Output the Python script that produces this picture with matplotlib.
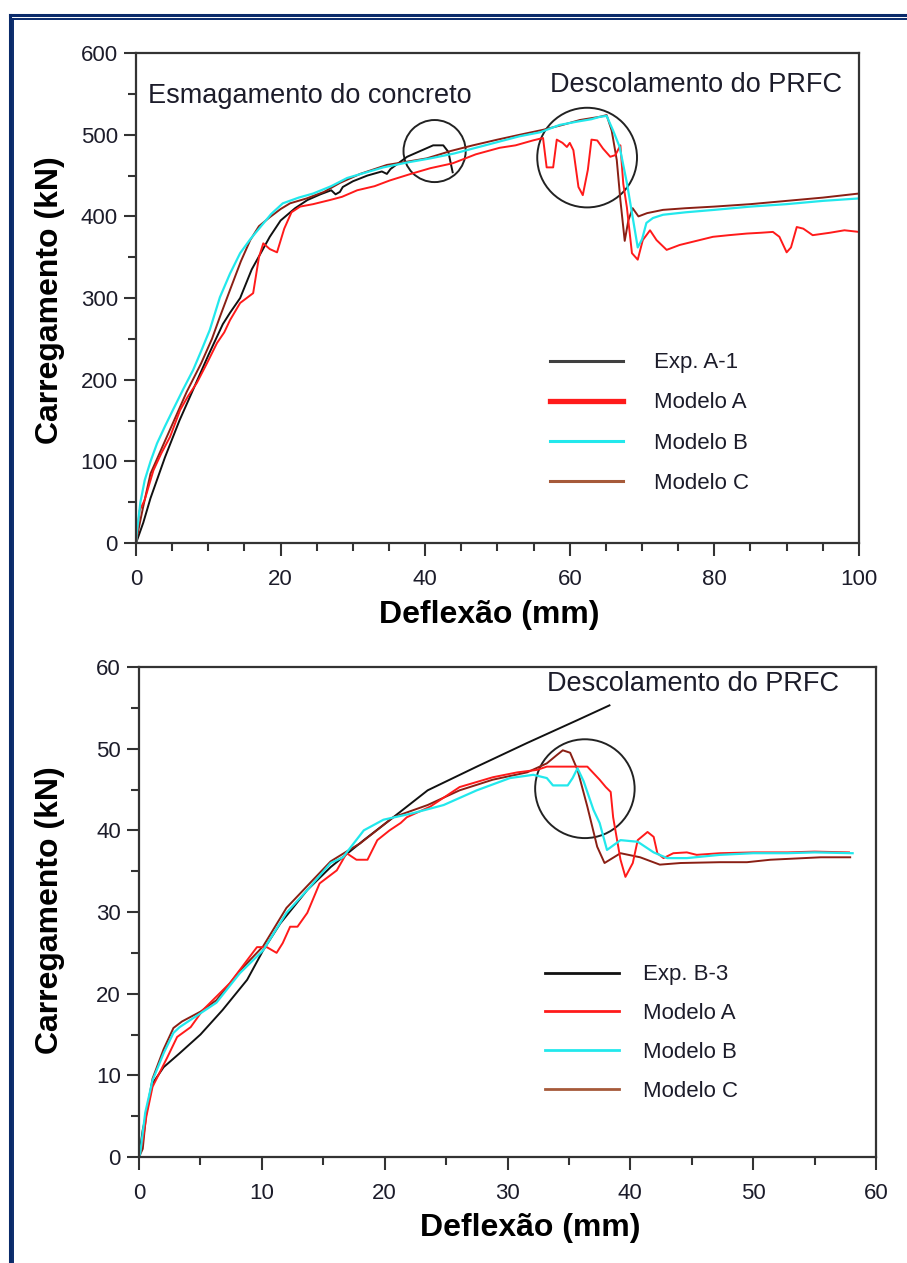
import matplotlib
matplotlib.use("Agg")
import matplotlib.pyplot as plt
from matplotlib.lines import Line2D
from matplotlib.patches import Ellipse
from matplotlib.ticker import MultipleLocator

plt.rcParams['font.family'] = ['Liberation Sans', 'DejaVu Sans']

# ---- top chart (beam A) ----
exp_a1_x = [0, 1, 2, 3, 4, 6, 8, 10, 12, 13, 14.4, 16, 18.5, 20, 22, 23.7, 25.5, 27, 27.6,
            28.2, 28.6, 30, 32, 34, 34.7, 35.2, 37.5, 41.1, 42.5, 43.2, 43.8]
exp_a1_y = [0, 25, 55, 80, 105, 150, 190, 230, 268, 282, 300, 335, 375, 395, 410, 420, 427, 432, 427,
            430, 436, 443, 450, 455, 452, 458, 473, 487, 487, 479, 454]

mod_a_top_x = [0, 0.5, 1.2, 2.4, 3.5, 4.7, 6.1, 7.2, 8.4, 9.8, 11.2, 12.2, 13, 14.4, 15.3, 16.2,
               17.0, 17.6, 18.5, 19.5, 20.5, 21.5, 22.7, 24.5, 26.8, 28.5, 30.6, 33, 35.1, 38,
               40.7, 43.8, 47, 50.3, 52.5, 54.9, 56.3, 56.8, 57.7, 58.2, 59.0, 59.6, 60.0, 60.5,
               61.2, 61.8, 62.5, 63.0, 63.8, 64.6, 65.6, 66.3, 67.0, 67.4, 67.9, 68.6, 69.4, 70.1,
               71.1, 72.0, 73.4, 75.2, 77.5, 79.8, 82, 84.5, 86.5, 88.1, 89.0, 90.0, 90.6, 91.4,
               92.3, 93.6, 96, 98, 100]
mod_a_top_y = [0, 40, 53, 89, 110, 130, 163, 180, 196, 220, 245, 258, 273, 294, 300, 306,
               350, 367, 360, 356, 385, 405, 412, 415, 420, 424, 432, 437, 444, 452,
               459, 465, 476, 484, 487, 493, 496, 460, 460, 494, 490, 485, 490, 481,
               436, 426, 457, 494, 493, 483, 473, 475, 487, 440, 411, 355, 347, 371,
               383, 371, 359, 365, 370, 375, 377, 379, 380, 381, 375, 356, 362, 387,
               385, 377, 380, 383, 381]

mod_b_top_x = [0, 0.1, 0.6, 1.2, 2.0, 2.9, 4.0, 5.1, 6.5, 7.9, 9.0, 10.2, 11.6, 13.0, 14.4, 15.8,
               17.2, 18.7, 20.3, 22.5, 24.5, 27, 29.2, 31.5, 34.2, 37.5, 40.7, 44, 47, 50, 53,
               55.9, 58.6, 61, 63, 64.2, 65.1, 66.0, 66.9, 67.9, 68.7, 69.4, 70.0, 70.6, 71.5,
               72.9, 76, 80, 85, 90, 95, 100]
mod_b_top_y = [0, 12, 50, 77, 100, 122, 143, 163, 188, 212, 235, 261, 301, 330, 355, 372,
               387, 403, 416, 423, 428, 437, 447, 453, 460, 466, 471, 477, 484, 491, 498,
               503, 512, 516, 519, 522, 523, 505, 485, 441, 399, 362, 372, 392, 398,
               402, 405, 408, 412, 415, 419, 422]

mod_c_top_x = [0, 0.3, 1, 2, 3.5, 5, 7, 9, 10.5, 11.6, 13, 14.5, 15.8, 17, 18.5, 20, 21.3, 23.6,
               26, 28.2, 31, 34.7, 37.5, 40.2, 43.5, 46.6, 50, 53.1, 56.3, 59, 61.4, 64.2, 65.1,
               65.8, 66.5, 67.0, 67.6, 68.1, 68.7, 69.5, 70.7, 72.9, 76, 80, 85, 90, 95, 100]
mod_c_top_y = [0, 15, 45, 85, 115, 145, 185, 220, 250, 277, 310, 345, 371, 388, 399, 409, 416, 422,
               430, 441, 452, 463, 467, 471, 480, 487, 494, 500, 506, 512, 518, 522, 524,
               505, 469, 420, 370, 395, 410, 400, 404, 408, 410, 412, 415, 419, 423, 428]

# ---- bottom chart (beam B) ----
exp_b3_x = [0, 0.3, 1.1, 2.0, 3.3, 5.0, 6.8, 8.8, 10.1, 11.5, 13.7, 15.6, 18.3, 20.7, 23.5,
            27.5, 31.6, 35.7, 38.3]
exp_b3_y = [0, 3.3, 9, 11, 12.7, 15, 18, 21.7, 25.3, 28.6, 32.7, 35.5, 38.8, 41.6, 44.9,
            47.8, 50.7, 53.5, 55.3]

mod_a_bot_x = [0, 0.3, 0.6, 1.1, 2.3, 3.1, 4.2, 5.2, 7.4, 9.6, 10.4, 11.2, 11.7, 12.3, 12.9, 13.7,
               14.7, 16.1, 16.9, 17.7, 18.6, 19.4, 20.4, 21.3, 21.8, 23.7, 26.1, 28.8, 30.8, 32.4,
               33.2, 36.5, 37.0, 37.5, 38.0, 38.4, 38.6, 39.2, 39.6, 40.2, 40.6, 41.4, 41.9, 42.2,
               42.7, 43.5, 44.6, 45.4, 47.3, 50.0, 52.8, 55, 57.8]
mod_a_bot_y = [0, 2, 5, 8.6, 12.2, 14.7, 15.9, 18.0, 21.3, 25.7, 25.7, 25.0, 26.2, 28.2, 28.2, 29.9,
               33.5, 35.1, 37.2, 36.4, 36.4, 38.8, 40.0, 40.9, 41.6, 42.9, 45.3, 46.5, 47.1, 47.4,
               47.8, 47.8, 47.0, 46.2, 45.3, 44.7, 41.6, 36.4, 34.3, 36.0, 38.8, 39.8, 39.2, 37.2,
               36.6, 37.2, 37.3, 37.0, 37.2, 37.3, 37.3, 37.4, 37.3]

mod_b_bot_x = [0, 0.1, 0.5, 1.1, 2.0, 2.8, 3.3, 5.0, 6.3, 8.2, 10.1, 12.0, 13.7, 15.6, 16.6, 18.3,
               19.9, 22.3, 24.8, 27.5, 30.2, 32.1, 33.2, 33.7, 34.9, 35.3, 35.7, 36.2, 37.0, 37.5,
               38.1, 39.2, 40.6, 41.9, 43.0, 44.6, 47.3, 50.0, 52.8, 55, 58.1]
mod_b_bot_y = [0, 0.5, 5.4, 9.4, 12.7, 15.2, 15.9, 17.6, 18.9, 22.5, 25.3, 29.9, 32.7, 36.0, 36.7, 40.0,
               41.3, 42.1, 43.1, 44.9, 46.4, 46.8, 46.4, 45.5, 45.5, 46.4, 47.6, 46.0, 42.5, 40.9,
               37.6, 38.8, 38.6, 37.3, 36.6, 36.6, 37.0, 37.2, 37.2, 37.3, 37.2]

mod_c_bot_x = [0, 0.3, 0.6, 1.1, 2.0, 2.8, 3.5, 5.0, 6.3, 8.2, 10.1, 12.0, 13.7, 15.6, 17.0, 18.0,
               20.7, 23.5, 26.1, 28.8, 31.6, 33.2, 34.0, 34.5, 35.1, 35.7, 36.5, 37.3, 37.9, 39.2,
               40.8, 42.4, 44.1, 47.3, 49.5, 51.4, 55.5, 57.9]
mod_c_bot_y = [0, 1, 5.5, 9.6, 13.2, 15.8, 16.6, 17.8, 19.2, 22.8, 25.8, 30.5, 33.2, 36.2, 37.5, 38.4,
               41.6, 43.1, 44.9, 46.2, 47.1, 48.2, 49.2, 49.8, 49.5, 47.4, 42.9, 38.0, 36.0, 37.2,
               36.7, 35.8, 36.0, 36.1, 36.1, 36.4, 36.7, 36.7]

RED = '#ff1a1a'
CYAN = '#22e8ec'
MAROON = '#8a1f14'
BROWN = '#a65a3a'
TXT = '#1c1c2a'


def style_axes(ax, xmax, ymax, xmaj, xmin, ymaj, ymin):
    ax.set_xlim(0, xmax)
    ax.set_ylim(0, ymax)
    ax.xaxis.set_major_locator(MultipleLocator(xmaj))
    ax.xaxis.set_minor_locator(MultipleLocator(xmin))
    ax.yaxis.set_major_locator(MultipleLocator(ymaj))
    ax.yaxis.set_minor_locator(MultipleLocator(ymin))
    for s in ax.spines.values():
        s.set_linewidth(1.6)
        s.set_color('#333333')
    ax.tick_params(which='major', direction='out', length=9, width=1.5, color='#333333',
                   labelsize=16, labelcolor=TXT)
    ax.tick_params(which='minor', direction='out', length=6, width=1.5, color='#333333')
    ax.tick_params(axis='x', which='major', pad=10)
    ax.tick_params(axis='y', which='major', pad=4)


fig = plt.figure(figsize=(9.07, 12.63), dpi=100)

# ----- top -----
ax1 = fig.add_axes([0.150, 0.570, 0.797, 0.388])
ax1.plot(exp_a1_x, exp_a1_y, color='#111111', lw=1.4)
ax1.plot(mod_c_top_x, mod_c_top_y, color=MAROON, lw=1.4)
ax1.plot(mod_a_top_x, mod_a_top_y, color=RED, lw=1.4)
ax1.plot(mod_b_top_x, mod_b_top_y, color=CYAN, lw=1.6)
style_axes(ax1, 100, 600, 20, 5, 100, 50)
ax1.add_patch(Ellipse((41.3, 480), 8.6, 76, fill=False, ec='#222222', lw=1.4))
ax1.add_patch(Ellipse((62.4, 472), 13.8, 122, fill=False, ec='#222222', lw=1.4))
ax1.text(1.7, 548, 'Esmagamento do concreto', fontsize=19.5, color=TXT, va='center')
ax1.text(57.2, 561, 'Descolamento do PRFC', fontsize=19.5, color=TXT, va='center')

h1 = [Line2D([], [], color='#404040', lw=2.2), Line2D([], [], color=RED, lw=3.8),
      Line2D([], [], color=CYAN, lw=2.2), Line2D([], [], color=BROWN, lw=2.2)]
ax1.legend(h1, ['Exp. A-1', 'Modelo A', 'Modelo B', 'Modelo C'], loc='upper left',
           bbox_to_anchor=(0.545, 0.43), frameon=False, fontsize=16, handlelength=3.3,
           handletextpad=1.4, labelspacing=0.86, labelcolor=TXT)

# ----- bottom -----
ax2 = fig.add_axes([0.1533, 0.0839, 0.8125, 0.388])
ax2.plot(exp_b3_x, exp_b3_y, color='#111111', lw=1.4)
ax2.plot(mod_c_bot_x, mod_c_bot_y, color=MAROON, lw=1.4)
ax2.plot(mod_a_bot_x, mod_a_bot_y, color=RED, lw=1.4)
ax2.plot(mod_b_bot_x, mod_b_bot_y, color=CYAN, lw=1.6)
style_axes(ax2, 60, 60, 10, 5, 10, 5)
ax2.add_patch(Ellipse((36.3, 45.1), 8.1, 12.1, fill=False, ec='#222222', lw=1.4))
ax2.text(33.2, 57.9, 'Descolamento do PRFC', fontsize=19.5, color=TXT, va='center')

h2 = [Line2D([], [], color='#111111', lw=2.0), Line2D([], [], color=RED, lw=2.0),
      Line2D([], [], color=CYAN, lw=2.0), Line2D([], [], color=BROWN, lw=2.0)]
ax2.legend(h2, ['Exp. B-3', 'Modelo A', 'Modelo B', 'Modelo C'], loc='upper left',
           bbox_to_anchor=(0.524, 0.434), frameon=False, fontsize=16, handlelength=3.3,
           handletextpad=1.1, labelspacing=0.8, labelcolor=TXT)

# axis labels
for ax, cy in ((ax1, 300), (ax2, 910)):
    fig.text(50 / 907, 1 - cy / 1263, 'Carregamento (kN)', rotation=90, fontsize=23,
             fontweight='bold', ha='center', va='center')
fig.text(489 / 907, 1 - 615 / 1263, 'Deflexão (mm)', fontsize=23, fontweight='bold',
         ha='center', va='center')
fig.text(530 / 907, 1 - 1228 / 1263, 'Deflexão (mm)', fontsize=23, fontweight='bold',
         ha='center', va='center')

# double navy frame (left and top edges)
navy = '#0a2a6a'
fig.add_artist(Line2D([9.5 / 907, 9.5 / 907], [0, 1 - 15.3 / 1263], color=navy, lw=2.2,
                      transform=fig.transFigure))
fig.add_artist(Line2D([9.5 / 907, 1], [1 - 15.3 / 1263, 1 - 15.3 / 1263], color=navy, lw=2.2,
                      transform=fig.transFigure))
fig.add_artist(Line2D([13.2 / 907, 13.2 / 907], [0, 1 - 18.5 / 1263], color=navy, lw=1.4,
                      transform=fig.transFigure))
fig.add_artist(Line2D([13.2 / 907, 1], [1 - 18.5 / 1263, 1 - 18.5 / 1263], color=navy, lw=1.4,
                      transform=fig.transFigure))

fig.savefig('out.png', dpi=100)
